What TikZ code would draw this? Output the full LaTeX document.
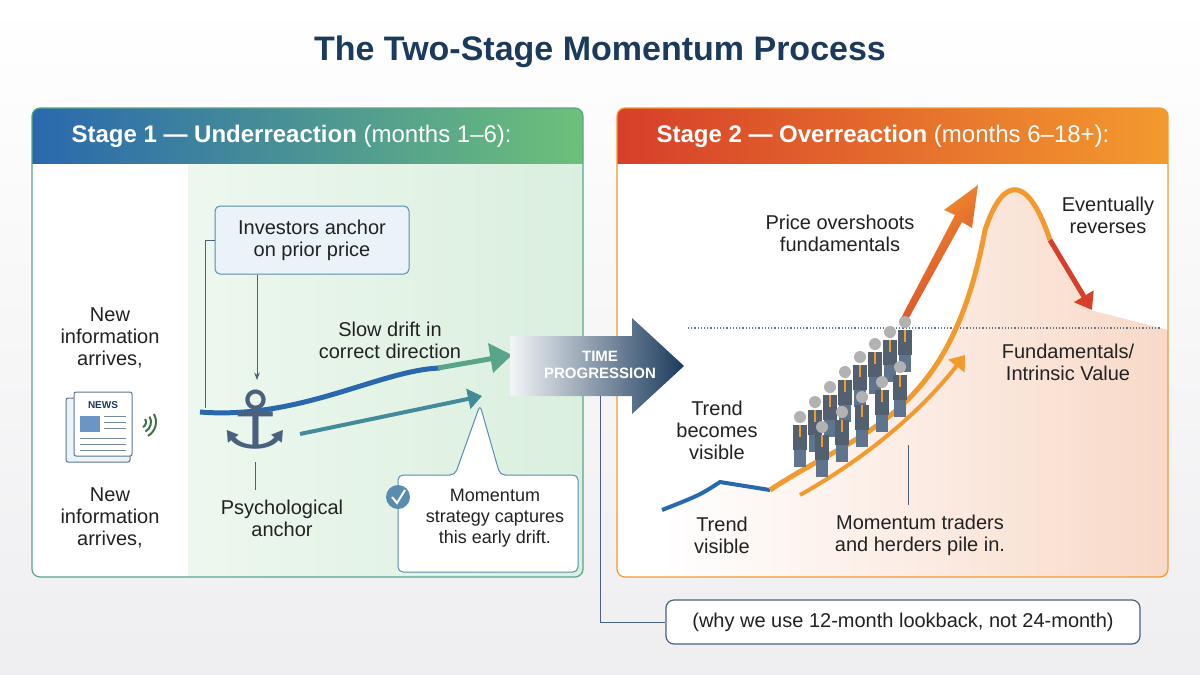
\documentclass[tikz,border=0pt]{standalone}
\usepackage{fontspec}
\setmainfont{Liberation Sans}
\newfontfamily\djv{DejaVu Sans}
\usetikzlibrary{arrows.meta,shapes.geometric,shapes.callouts}
\definecolor{navy}{HTML}{1B3A5C}
\definecolor{txt}{HTML}{222222}
\definecolor{bl}{HTML}{2A68AE}
\definecolor{gr}{HTML}{6CC07A}
\definecolor{rd}{HTML}{D63F2A}
\definecolor{org}{HTML}{F39A2E}
\definecolor{peach}{HTML}{F8D9C8}
\definecolor{boxfill}{HTML}{EAF3F8}
\definecolor{boxline}{HTML}{5A8CB0}
\tikzset{
 lbl/.style={text=txt,font=\fontsize{20}{22}\selectfont,align=center},
 panel/.style={draw=#1,line width=1.2pt,rounded corners=8pt},
 ibox/.style={draw=boxline,fill=boxfill,rounded corners=5pt,line width=1pt},
 thin/.style={draw=navy!80,line width=1pt},
}
\begin{document}
\begin{tikzpicture}[x=1pt,y=-1pt]
\useasboundingbox (0,0) rectangle (1200,675);
\fill[top color=white,bottom color=blue!8!gray!12] (0,0) rectangle (1200,675);
\node[font=\bfseries\fontsize{34}{36}\selectfont,text=navy] (title) at (600,52) {The Two-Stage Momentum Process};
% left panel
\begin{scope}
\clip[rounded corners=8pt] (32,108) rectangle (583,577);
\fill[white] (32,108) rectangle (583,577);
\fill[left color=gr!12,right color=gr!25] (188,163) rectangle (583,577);
\shade[left color=bl,right color=gr] (32,108) rectangle (583,163);
\end{scope}
\draw[panel=gr!70!bl] (32,108) rectangle (583,577);
\node[anchor=west,text=white,font=\fontsize{24}{26}\selectfont] (h1) at (68,136) {\textbf{Stage 1 — Underreaction} (months 1–6):};
% right panel
\begin{scope}
\clip[rounded corners=8pt] (617,108) rectangle (1168,577);
\fill[white] (617,108) rectangle (1168,577);
\shade[left color=white,right color=peach] (662,510) .. controls (720,480) .. (770,490) .. controls (860,430) and (950,420) .. (985,230) .. controls (1005,170) and (1030,180) .. (1050,240) -- (1090,310) -- (1168,330) -- (1168,577) -- (662,577) -- cycle;
\shade[left color=rd,right color=org] (617,108) rectangle (1168,163);
\end{scope}
\draw[panel=org] (617,108) rectangle (1168,577);
\node[anchor=west,text=white,font=\fontsize{24}{26}\selectfont] (h2) at (653,136) {\textbf{Stage 2 — Overreaction} (months 6–18+):};
% left contents
\node[lbl] (new1) at (110,338) {New\\information\\arrives,};
\node[lbl] (new2) at (110,518) {New\\information\\arrives,};
% newspaper
\draw[fill=boxfill,draw=navy!70,line width=1pt,rounded corners=2pt] (66,398) rectangle (130,462);
\draw[fill=white,draw=navy!70,line width=1pt,rounded corners=2pt] (74,392) rectangle (132,456);
\node[font=\bfseries\fontsize{10}{10}\selectfont,text=navy] (news) at (103,405) {NEWS};
\fill[bl!70] (80,416) rectangle (100,432);
\foreach \yy in {416,422,428} \draw[navy!60,line width=1pt] (104,\yy) -- (126,\yy);
\foreach \yy in {438,444,450} \draw[navy!60,line width=1pt] (80,\yy) -- (126,\yy);
\foreach \r in {6,11,16} \draw[gr!60!black,line width=2pt] (140,422) ++(-30:\r) arc (-30:60:\r);
\node[ibox,lbl,minimum width=194pt,minimum height=68pt] (anch) at (312,240) {Investors anchor\\on prior price};
\coordinate (a1) at (205,240);
\draw[thin] (anch.west) -- (a1) -- (205,408);
\draw[thin,-{Stealth}] (257,275) -- (257,380);
\draw[thin] (255,462) -- (255,490);
\draw[line width=5pt,bl] (200,412) .. controls (300,420) and (380,370) .. (440,368);
\draw[line width=5pt,gr!70!bl] (438,368) -- (495,358);
\fill[gr!70!bl] (512,355) -- (488,343) -- (493,373) -- cycle;
\node[font=\djv\fontsize{80}{80}\selectfont,text=navy!80,inner sep=0pt] (anchor) at (255,420) {⚓};
\node[lbl] (psy) at (282,518) {Psychological\\anchor};
\node[lbl] (drift) at (390,340) {Slow drift in\\correct direction};
\draw[line width=4pt,bl!60!gr,-{Triangle[length=14pt,width=20pt]}] (300,434) -- (482,396);
\draw[ibox,fill=white] (398,475) -- (455,475) -- (480,405) -- (500,475) -- (578,475) -- (578,572) -- (398,572) -- cycle;
\node[lbl,font=\fontsize{18}{21}\selectfont,anchor=north] (mom) at (495,486) {Momentum\\strategy captures\\this early drift.};
\fill[boxline] (398,497) circle (12pt);
\draw[white,line width=2pt] (392,497) -- (397,503) -- (405,490);
% time arrow
\shade[left color=navy!5,right color=navy] (510,336) -- (632,336) -- (632,318) -- (684,366) -- (632,414) -- (632,396) -- (510,396) -- cycle;
\node[text=white,font=\bfseries\fontsize{15}{17}\selectfont,align=center] (time) at (600,365) {TIME\\PROGRESSION};
% note box
\coordinate (c1) at (600,622);
\node[draw=navy!80,line width=1.2pt,fill=white,rounded corners=8pt,minimum width=474pt,minimum height=44pt,lbl] (note) at (903,622) {(why we use 12-month lookback, not 24-month)};
\draw[thin] (600,396) -- (c1) -- (note.west);
% right contents
\draw[navy!70,dotted,line width=1.2pt] (688,328) -- (1160,328);
\draw[line width=4pt,bl] (662,510) .. controls (700,495) .. (720,482) -- (770,490);
\draw[line width=5pt,org] (770,490) .. controls (860,430) and (950,420) .. (985,230) .. controls (1005,170) and (1030,180) .. (1050,240);
\draw[line width=5pt,rd,-{Triangle[length=16pt,width=22pt]}] (1050,240) -- (1092,310);
\shade[left color=org,right color=rd,shading angle=45] (900,320) -- (955,215) -- (944,210) -- (978,185) -- (972,228) -- (962,222) -- (906,323) -- cycle;
\draw[line width=4pt,org,-{Triangle[length=14pt,width=20pt]}] (800,495) .. controls (880,450) and (930,400) .. (965,355);
% crowd
\foreach \i/\x/\y in {0/800/445,1/815/430,2/830/415,3/845/400,4/860/385,5/875/372,6/890/360,7/905/350,8/822/455,9/842/440,10/862/425,11/882/410,12/900/395}{
 \fill[gray!60] (\x,\y-28) circle (6pt);
 \fill[gray!55!navy] (\x-7,\y-20) rectangle (\x+7,\y+5);
 \fill[org] (\x-1,\y-20) rectangle (\x+1,\y-8);
 \fill[navy!70] (\x-6,\y+5) rectangle (\x+6,\y+22);
}
\draw[thin] (908,445) -- (908,505);
\node[lbl] (over) at (840,233) {Price overshoots\\fundamentals};
\node[lbl] (rev) at (1108,215) {Eventually\\reverses};
\node[lbl] (fund) at (1068,362) {Fundamentals/\\Intrinsic Value};
\node[lbl] (tbv) at (717,430) {Trend\\becomes\\visible};
\node[lbl] (tv) at (722,535) {Trend\\visible};
\node[lbl] (mt) at (920,535) {Momentum traders\\and herders pile in.};
\end{tikzpicture}
\end{document}
